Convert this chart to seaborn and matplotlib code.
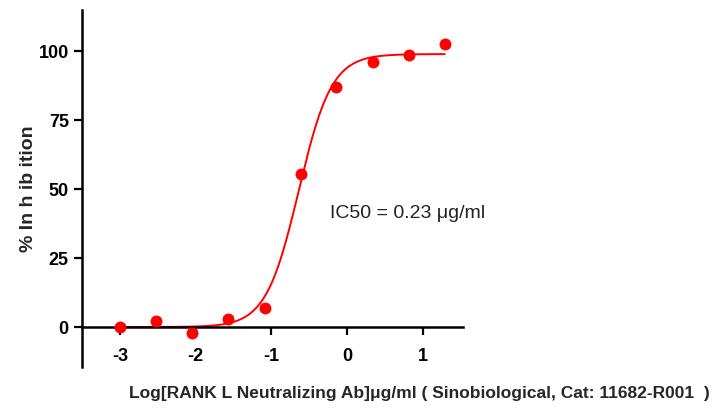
#!/usr/bin/env python
"""Dose-response curve: RANKL neutralizing antibody inhibition."""
import numpy as np
import pandas as pd
import matplotlib
matplotlib.use("Agg")
import matplotlib.pyplot as plt
import seaborn as sns

# --- Data ---
log_conc = [-3.0, -2.52, -2.05, -1.57, -1.09, -0.61, -0.14, 0.34, 0.82, 1.29]
inhibition = [0.0, 2.2, -2.2, 2.9, 6.8, 55.5, 87.0, 96.0, 98.5, 102.5]

# 4PL fit parameters
fit_bottom = 0.0
fit_top = 99.0
fit_log_ic50 = np.log10(0.23)
fit_hill = 2.0

RED = "#ff0000"

sns.set_style("ticks")
plt.rcParams["font.family"] = ["Liberation Sans Narrow", "Liberation Sans", "DejaVu Sans"]
plt.rcParams["axes.unicode_minus"] = False

fig = plt.figure(figsize=(7.17, 4.15), dpi=100)
ax = fig.add_axes([0.1144, 0.1157, 0.5313, 0.8603])

xs = np.linspace(log_conc[0], log_conc[-1], 300)
curve = pd.DataFrame({
    "x": xs,
    "y": fit_bottom + (fit_top - fit_bottom) / (1 + 10 ** ((fit_log_ic50 - xs) * fit_hill)),
})
sns.lineplot(data=curve, x="x", y="y", color=RED, linewidth=1.4, ax=ax)

pts = pd.DataFrame({"x": log_conc, "y": inhibition})
sns.scatterplot(data=pts, x="x", y="y", color=RED, s=65, marker="o",
                edgecolor=RED, linewidth=0.5, zorder=5, ax=ax)

ax.set_xlim(-3.5, 1.53)
ax.set_ylim(-14.5, 115)
ax.set_xticks([-3, -2, -1, 0, 1])
ax.set_yticks([0, 25, 50, 75, 100])

# x axis drawn at y = 0
ax.spines["bottom"].set_position(("data", 0))
ax.spines["top"].set_visible(False)
ax.spines["right"].set_visible(False)
for side in ["left", "bottom"]:
    ax.spines[side].set_linewidth(1.8)
    ax.spines[side].set_color("black")

ax.tick_params(axis="both", direction="out", length=6, width=1.6, colors="black",
               labelsize=13)
ax.tick_params(axis="x", pad=9)
for lbl in ax.get_xticklabels() + ax.get_yticklabels():
    lbl.set_fontweight("bold")

ax.set_xlabel("")
ax.set_ylabel("")

ax.text(-0.22, 41, "IC50 = 0.23 \u03bcg/ml", fontsize=14, ha="left", va="center",
        color="#222222")

fig.text(0.040, 0.545, "% In h ib ition", rotation=90, fontsize=14,
         fontweight="bold", ha="center", va="center")
fig.text(0.585, 0.053, "Log[RANK L Neutralizing Ab]\u03bcg/ml ( Sinobiological, Cat: 11682-R001  )",
         fontsize=12.5, fontweight="bold", ha="center", va="center")

plt.savefig("out.png", dpi=100)
